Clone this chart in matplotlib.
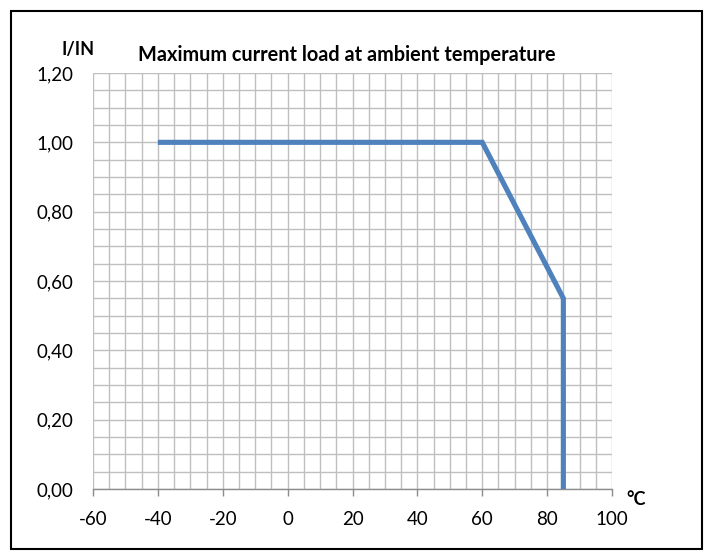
import matplotlib
matplotlib.use("Agg")
import matplotlib.pyplot as plt
from matplotlib.patches import Rectangle
from matplotlib.ticker import MultipleLocator, FuncFormatter

plt.rcParams['font.family'] = ['Lato', 'DejaVu Sans']
plt.rcParams['axes.unicode_minus'] = False

# derating curve
temp = [-40, 60, 85, 85]
load = [1.00, 1.00, 0.55, 0.00]

title = "Maximum current load at ambient temperature"
ylabel = "I/IN"
xlabel = "°C"

W, H = 704, 552
fig = plt.figure(figsize=(W / 100, H / 100), dpi=100)

# plot area in pixels
left, right, top, bottom = 93, 612, 73, 489
ax = fig.add_axes([left / W, 1 - bottom / H, (right - left) / W, (bottom - top) / H])

ax.plot(temp, load, color="#4F81BD", lw=3.7, solid_capstyle="butt",
        solid_joinstyle="miter", zorder=3)

ax.set_xlim(-60, 100)
ax.set_ylim(0, 1.2)
ax.xaxis.set_major_locator(MultipleLocator(20))
ax.xaxis.set_minor_locator(MultipleLocator(5))
ax.yaxis.set_major_locator(MultipleLocator(0.2))
ax.yaxis.set_minor_locator(MultipleLocator(0.05))
ax.xaxis.set_major_formatter(FuncFormatter(lambda v, p: f"{v:.0f}"))
ax.yaxis.set_major_formatter(FuncFormatter(lambda v, p: f"{v:.2f}".replace(".", ",")))

ax.grid(True, which="both", color="#BFBFBF", lw=1.0)
ax.set_axisbelow(True)

for s in ["top", "right", "left"]:
    ax.spines[s].set_visible(False)
ax.spines["bottom"].set_color("#8C8C8C")
ax.spines["bottom"].set_linewidth(1.0)

ax.tick_params(axis="x", which="major", direction="out", length=5, width=1,
               color="#8C8C8C", labelsize=13.5, pad=11)
ax.tick_params(axis="x", which="minor", length=0)
ax.tick_params(axis="y", which="both", length=0, labelsize=13.5, pad=14)

fig.text(138 / W, 1 - 61 / H, title, fontsize=14.3, fontweight="bold", va="baseline")
fig.text(78.5 / W, 1 - 55 / H, ylabel, fontsize=13, fontweight="bold",
         ha="center", va="baseline")
fig.text(636 / W, 1 - 505 / H, xlabel, fontsize=13, fontweight="bold",
         ha="center", va="baseline")

# outer chart border
fig.patches.append(Rectangle((11 / W, 1 - 549 / H), 691 / W, 538 / H,
                             transform=fig.transFigure, fill=False,
                             edgecolor="black", lw=1.5))

fig.savefig("out.png", dpi=100)
